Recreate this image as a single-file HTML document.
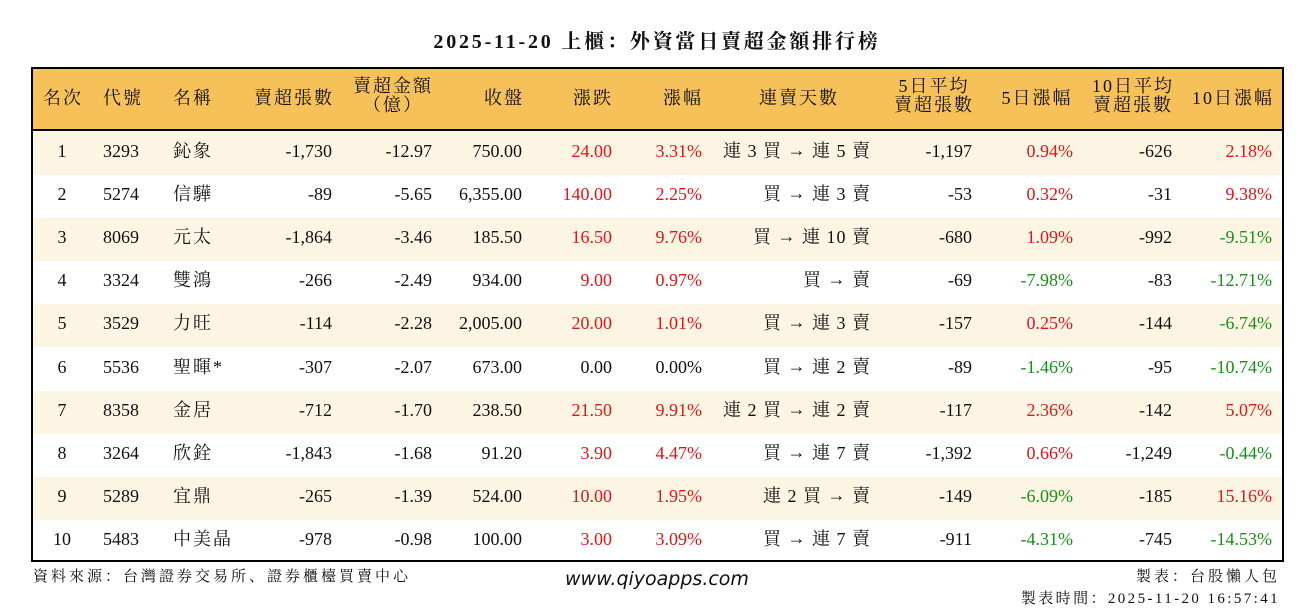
<!DOCTYPE html><html><head><meta charset="utf-8"><style>
body{margin:0;width:1314px;height:612px;background:#fff;position:relative;font-family:"Liberation Serif","Noto Serif CJK SC",serif;color:#111;overflow:hidden}
.t{position:absolute;white-space:nowrap;font-size:18px;line-height:20px}
.r{color:#e0161b}.g{color:#17901b}
.cj{letter-spacing:2px}
#tbl{position:absolute;left:31px;top:67px;width:1249px;height:491px;border:2px solid #000}
.hd{position:absolute;left:0;top:0;width:1249px;height:60px;background:#f7c15a;border-bottom:2px solid #000}
.row{position:absolute;left:0;width:1249px;height:43.1px}
</style></head><body>
<div class="t" style="left:0;width:1314px;text-align:center;top:32px;font-size:20px;font-weight:bold;letter-spacing:2.8px">2025-11-20 上櫃：外資當日賣超金額排行榜</div>
<div id="tbl"><div class="hd"></div><div id="rows"></div></div>
<div id="c"></div>
<div class="t" style="left:33px;top:567px;font-size:15px;letter-spacing:3px">資料來源：台灣證券交易所、證券櫃檯買賣中心</div>
<div class="t" style="left:565px;top:569px;font-size:19px;font-family:'DejaVu Sans',sans-serif;font-style:italic">www.qiyoapps.com</div>
<div class="t" style="right:34px;top:567px;font-size:15px;letter-spacing:3px">製表：台股懶人包</div>
<div class="t" style="right:34px;top:589px;font-size:15px;letter-spacing:2.4px">製表時間：2025-11-20 16:57:41</div>
<script>
var H=[["名次",63],["代號",123],["名稱",193],["賣超張數",294],["賣超金額<br>（億）",393],["收盤",504],["漲跌",593],["漲幅",683],["連賣天數",799],["5日平均<br>賣超張數",934],["5日漲幅",1037],["10日平均<br>賣超張數",1133],["10日漲幅",1233]];
var D=[["1","3293","鈊象","-1,730","-12.97","750.00","24.00","3.31%","連 3 買 → 連 5 賣","-1,197","0.94%","-626","2.18%"],
["2","5274","信驊","-89","-5.65","6,355.00","140.00","2.25%","買 → 連 3 賣","-53","0.32%","-31","9.38%"],
["3","8069","元太","-1,864","-3.46","185.50","16.50","9.76%","買 → 連 10 賣","-680","1.09%","-992","-9.51%"],
["4","3324","雙鴻","-266","-2.49","934.00","9.00","0.97%","買 → 賣","-69","-7.98%","-83","-12.71%"],
["5","3529","力旺","-114","-2.28","2,005.00","20.00","1.01%","買 → 連 3 賣","-157","0.25%","-144","-6.74%"],
["6","5536","聖暉*","-307","-2.07","673.00","0.00","0.00%","買 → 連 2 賣","-89","-1.46%","-95","-10.74%"],
["7","8358","金居","-712","-1.70","238.50","21.50","9.91%","連 2 買 → 連 2 賣","-117","2.36%","-142","5.07%"],
["8","3264","欣銓","-1,843","-1.68","91.20","3.90","4.47%","買 → 連 7 賣","-1,392","0.66%","-1,249","-0.44%"],
["9","5289","宜鼎","-265","-1.39","524.00","10.00","1.95%","連 2 買 → 賣","-149","-6.09%","-185","15.16%"],
["10","5483","中美晶","-978","-0.98","100.00","3.00","3.09%","買 → 連 7 賣","-911","-4.31%","-745","-14.53%"]];
var R=[null,null,null,332,432,522,612,702,870,972,1073,1172,1272];
var h='',rw='';
H.forEach(function(c){var two=c[0].indexOf('<br>')>0;h+='<div class="t cj" style="left:'+(c[1]-100)+'px;width:200px;text-align:center;top:'+(two?77:88)+'px;line-height:'+(two?'19px':'20px')+'">'+c[0]+'</div>'});
D.forEach(function(d,i){var y=130+i*43.1;if(i%2==0)rw+='<div class="row" style="top:'+(y-67)+'px;background:#fdf5e4"></div>';var ty=y+11;
h+='<div class="t" style="left:'+(62-30)+'px;width:60px;text-align:center;top:'+ty+'px">'+d[0]+'</div>';
h+='<div class="t" style="left:103px;top:'+ty+'px">'+d[1]+'</div>';
h+='<div class="t cj" style="left:173px;top:'+ty+'px">'+d[2]+'</div>';
for(var k=3;k<13;k++){var cl='';if(k==6||k==7){cl=parseFloat(d[k])>0?'r':''}if(k==10||k==12){cl=d[k][0]=='-'?'g':'r'}
if(k==8){h+='<div class="t" style="right:'+(1314-870-1)+'px;top:'+ty+'px;letter-spacing:1px">'+d[k].replace('→','<span style="font-family:\'Liberation Serif\';position:relative;top:-1px">→</span>')+'</div>';continue}
h+='<div class="t '+cl+'" style="right:'+(1314-R[k])+'px;top:'+ty+'px">'+d[k]+'</div>'}});
document.getElementById('rows').innerHTML=rw;document.getElementById('c').innerHTML=h;
</script></body></html>
